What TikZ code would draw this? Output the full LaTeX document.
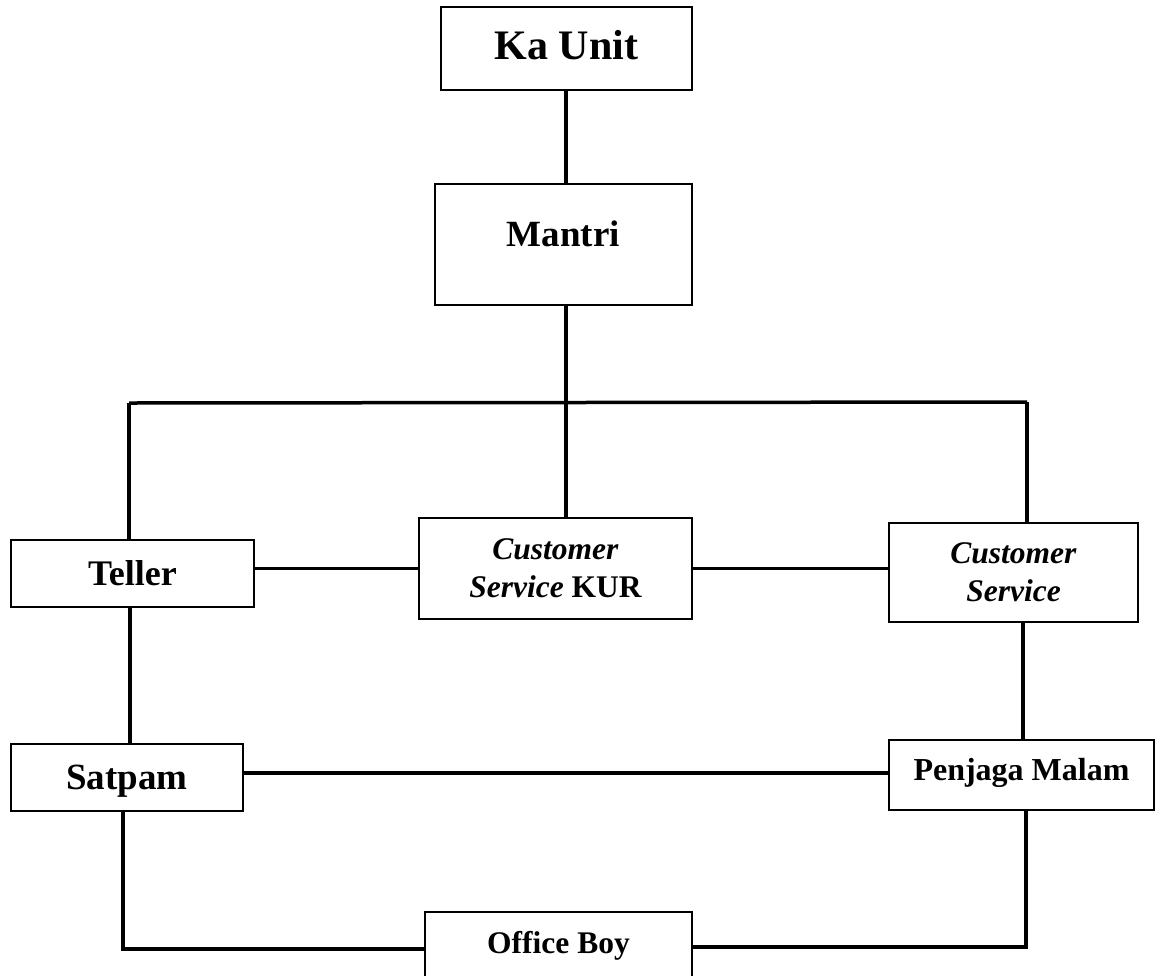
\documentclass[tikz,border=0pt]{standalone}
\usepackage{fontspec}
\setmainfont{Liberation Serif}
\begin{document}
\begin{tikzpicture}[x=1pt,y=1pt,
  box/.style={draw, line width=2.8pt, inner sep=0pt, align=center},
  conn/.style={line width=3.5pt}]
\useasboundingbox (0,0) rectangle (1161,-975);
\fill[white] (0,0) rectangle (1161,-975);
\clip (0,0) rectangle (1161,-975);

\node[box, minimum width=251pt, minimum height=83pt, text height=27.8pt, text depth=6pt,
  font=\fontsize{42}{50}\selectfont\bfseries] (ka) at (566.5,-48.5) {Ka Unit};
\node[box, minimum width=257pt, minimum height=121pt, text height=24.5pt, text depth=20pt,
  font=\fontsize{37}{44}\selectfont\bfseries] (mantri) at (563.5,-244.5) {Mantri};
\node[box, minimum width=243pt, minimum height=67pt, text height=23.8pt, text depth=0pt,
  font=\fontsize{36}{43}\selectfont\bfseries] (teller) at (132.5,-573.5) {Teller};
\node[box, minimum width=273pt, minimum height=101pt,
  font=\fontsize{31.5}{38}\selectfont\bfseries] (kur) at (555.5,-568.5) {\textit{Customer}\\\textit{Service} KUR};
\node[box, minimum width=249pt, minimum height=99pt,
  font=\fontsize{31.5}{38}\selectfont\bfseries] (cs) at (1013.5,-572.5) {\textit{Customer}\\\textit{Service}};
\node[box, minimum width=232pt, minimum height=67pt, text height=24.5pt, text depth=0pt,
  font=\fontsize{37}{44}\selectfont\bfseries] (satpam) at (127,-777.5) {Satpam};
\node[box, minimum width=265pt, minimum height=70pt, text height=21.2pt, text depth=10pt,
  font=\fontsize{32}{38}\selectfont\bfseries] (penjaga) at (1021.5,-775) {Penjaga Malam};
\node[box, minimum width=267pt, minimum height=73pt, text height=20.9pt, text depth=11pt,
  font=\fontsize{31.5}{38}\selectfont\bfseries] (office) at (558.5,-948.5) {Office Boy};

\coordinate (hub) at (566,-403);
\coordinate (tl) at (129,-403);
\coordinate (tr) at (1027,-402);
\coordinate (lv) at (130,0);
\coordinate (rv) at (1023,0);
\coordinate (mid) at (0,-773);
\coordinate (bl) at (123,-949);
\coordinate (br) at (1026,-947);

\draw[conn] (ka.south -| hub) -- (mantri.north -| hub);
\draw[conn] (mantri.south -| hub) -- (kur.north -| hub);
\draw[conn] (tl) -- (tr);
\draw[conn] (tl) -- (teller.north -| tl);
\draw[conn] (tr) -- (cs.north -| tr);
\draw[conn] (teller.east |- kur.west) -- (kur.west);
\draw[conn] (kur.east) -- (cs.west |- kur.east);
\draw[conn] (teller.south -| lv) -- (satpam.north -| lv);
\draw[conn] (cs.south -| rv) -- (penjaga.north -| rv);
\draw[conn] (satpam.east |- mid) -- (penjaga.west |- mid);
\draw[conn] (satpam.south -| bl) -- (bl) -- (office.west |- bl);
\draw[conn] (office.east |- br) -- (br) -- (penjaga.south -| br);
\end{tikzpicture}
\end{document}
